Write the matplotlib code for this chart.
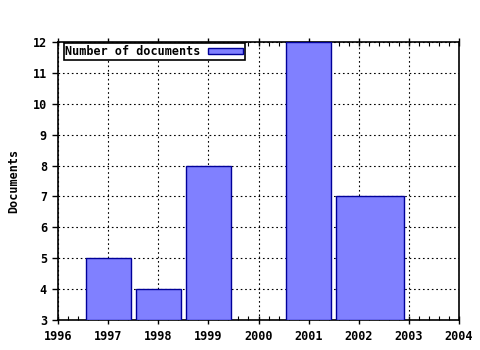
import numpy as np
import matplotlib
matplotlib.use("Agg")
import matplotlib.pyplot as plt
from matplotlib.ticker import MultipleLocator

# data
years = [1997, 1998, 1999, 2001, 2002]
docs = [5, 4, 8, 12, 7]
widths = [0.9, 0.9, 0.9, 0.9, 1.35]

plt.rcParams['font.family'] = ['DejaVu Sans Mono']
plt.rcParams['font.weight'] = 'bold'
plt.rcParams['font.size'] = 8

fig = plt.figure(figsize=(4.8, 3.5), dpi=100)
ax = fig.add_axes([58 / 480, 1 - 320 / 350, 401 / 480, 278 / 350])

lefts = [y - 0.45 for y in years]
ax.bar(lefts, [d - 3 for d in docs], width=widths, bottom=3, align='edge',
       color='#8080ff', edgecolor='#000099', linewidth=1.0,
       label='Number of documents', zorder=3)

ax.set_xlim(1996, 2004)
ax.set_ylim(3, 12)
ax.xaxis.set_major_locator(MultipleLocator(1))
ax.xaxis.set_minor_locator(MultipleLocator(0.2))
ax.yaxis.set_major_locator(MultipleLocator(1))

ax.grid(True, which='major', color='black', linestyle=(0, (1.5, 2.5)), linewidth=0.8, zorder=0)
ax.tick_params(axis='x', which='major', direction='inout', length=6, top=True, width=1)
ax.tick_params(axis='x', which='minor', direction='in', length=3, top=True, width=0.8)
ax.tick_params(axis='y', which='major', direction='out', length=4, width=1)
ax.tick_params(axis='both', labelsize=8.5, pad=4)
for lab in ax.get_xticklabels() + ax.get_yticklabels():
    lab.set_fontweight('bold')
for s in ax.spines.values():
    s.set_linewidth(1.2)

ax.set_ylabel('Documents', fontsize=8.5, fontweight='bold', labelpad=9)

leg = ax.legend(loc='upper left', bbox_to_anchor=(0.014, 0.995), borderaxespad=0,
                markerfirst=False, frameon=True, fancybox=False,
                framealpha=1, borderpad=0.15, handlelength=3.0,
                handleheight=0.5, handletextpad=0.6, prop={'weight': 'bold', 'size': 8.5})
leg.get_frame().set_edgecolor('black')
leg.get_frame().set_linewidth(1.2)

fig.savefig('out.png', dpi=100)
